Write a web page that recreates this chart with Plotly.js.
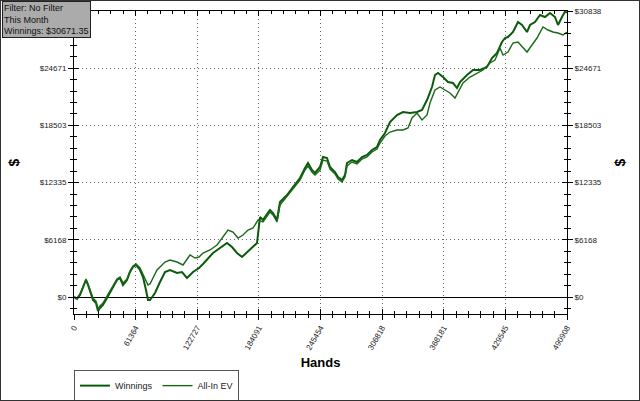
<!DOCTYPE html>
<html>
<head>
<meta charset="utf-8">
<script src="https://cdn.plot.ly/plotly-3.0.1.min.js"></script>
<style>
html,body{margin:0;padding:0;background:#fff;}
#wrap{position:relative;width:640px;height:401px;}
#chart{width:640px;height:401px;}
#frame{position:absolute;left:0;top:0;width:638px;height:399px;border:1px solid #333;pointer-events:none;}
</style>
</head>
<body>
<div id="wrap"><div id="chart"></div><div id="frame"></div></div>
<script>
// ---- data ----
const handsWin = [0,2987,5975,8962,11949,13941,16928,18919,21907,23898,25890,28877,32860,35847,38835,42818,45805,48792,52775,55763,58750,61737,65720,68707,71695,73686,75678,78665,80657,85635,90614,95593,102563,107542,112521,118495,124470,128453,132436,138411,145381,152351,157330,162309,167288,172266,177245,182224,185211,188199,192182,195169,198156,202139,205127,209110,212097,218071,222054,225042,230021,233008,236991,239978,244957,247944,251927,254915,259893,262881,266864,269851,271842,276821,281800,286779,291758,296736,301715,304703,309681,314660,321630,327605,334575,341546,346524,351503,356482,359469,362457,367435,372414,377393,381376,384363,391334,397308,404279,411249,416228,421206,426185,429173,432160,437139,442117,446100,451079,454067,459045,464024,469003,473982,478961,481948,485931,488918,490908];
const winnings = [0,-216,216,1078,1833,1294,216,-323,-647,-1509,-1186,-863,-108,431,1078,1833,2049,1294,1833,2696,3235,3450,2911,2156,755,-323,-323,108,431,1617,2696,2911,2588,2696,2049,2696,3127,3558,3989,4744,5283,5822,5391,4744,4313,4852,5283,5822,8626,8302,8949,9380,9057,8302,10243,10674,10998,11860,12399,12831,13909,14448,13693,13370,14017,15095,14987,14017,13478,12938,12615,13154,14448,14771,14556,15095,15310,15850,16173,16928,17682,18869,19623,19947,19839,19947,20162,21241,22642,23936,24152,23720,23181,23073,22534,23181,23936,24475,24475,24799,25769,26308,27494,27925,28033,28572,29651,29327,28572,29327,29651,30405,30190,30621,30190,29327,30190,30780,30671];
const handsEV = [0,2987,5975,8962,11949,13941,16928,18919,21907,23898,25890,28877,32860,35847,38835,42818,45805,48792,52775,55763,58750,61737,65720,68707,71695,73686,75678,78665,82648,85635,90614,95593,102563,108538,115508,120487,124470,128453,135423,142394,148368,153347,158326,163305,168283,173262,178241,183220,188199,192182,195169,198156,202139,205127,209110,212097,218071,222054,225042,230021,233008,236991,239978,244957,247944,251927,254915,259893,262881,266864,269851,271842,276821,281800,286779,291758,296736,301715,304703,309681,314660,321630,327605,332584,336567,341546,346524,351503,354491,359469,364448,369427,374406,379385,382372,387351,394321,401291,407266,414236,419215,424194,427181,432160,437139,442117,447096,451079,456058,461037,467011,471990,476969,481948,486927,490908];
const allInEV = [0,-108,323,1186,1941,1402,431,-108,-431,-1294,-970,-647,108,647,1294,1941,2156,1509,1941,2803,3342,3558,3127,2480,1725,1294,1402,2049,2911,3235,3774,3989,3774,3450,4528,4205,4313,4744,5068,5606,6469,7224,7008,6361,6685,7224,7440,8302,8087,8733,9165,8841,8087,9919,10459,10782,11645,12184,12615,13693,14124,13478,13154,13693,14771,14664,13801,13262,12723,12399,12938,14124,14556,14340,14879,15095,15634,15957,16604,17359,17790,18006,18006,18222,19300,19839,19084,19623,20917,22319,22642,22319,21995,21456,22103,23073,23720,24152,24475,25230,25553,26847,26092,26416,27386,27494,26847,26416,27171,27925,29111,28789,28572,28465,28250,28572];

const xTickVals = [0,61364,122727,184091,245454,306818,368181,429545,490908];
const xTickText = ['0','61364','122727','184091','245454','306818','368181','429545','490908'];
const yTickVals = [0,6168,12335,18503,24671,30838];
const yTickText = ['$0','$6168','$12335','$18503','$24671','$30838'];
const seriesNames = ['Winnings','All-In EV'];
const infoLines = ['Filter: No Filter','This Month','Winnings: $30671.35'];

// ---- chart ----
const FONT = 'Liberation Sans, Arial, sans-serif';
const xMax = xTickVals[xTickVals.length-1];
const yMax = yTickVals[yTickVals.length-1];
const xRange = [0, xMax];
const yRange = [-1833, yMax];
const xMinor = xMax/40, yMinor = yMax/25;
const GRIDDASH = '1px,3px';

const traces = [
  {x: handsWin, y: winnings, name: seriesNames[0], type:'scatter', mode:'lines',
   line:{color:'#0b5a0b', width:2}},
  {x: handsEV, y: allInEV, name: seriesNames[1], type:'scatter', mode:'lines',
   line:{color:'#186818', width:1.4}},
  {x:[null], y:[null], xaxis:'x', yaxis:'y2', showlegend:false, hoverinfo:'skip', mode:'lines'},
  {x:[null], y:[null], xaxis:'x2', yaxis:'y3', showlegend:false, hoverinfo:'skip', mode:'lines'}
];

const tickFont = {family: FONT, size: 8, color:'#222'};
const layout = {
  width:640, height:401,
  margin:{l:74, r:73, t:11, b:87, pad:0, autoexpand:false},
  paper_bgcolor:'#fff', plot_bgcolor:'#fff',
  showlegend:true,
  xaxis:{range:xRange, tickmode:'array', tickvals:xTickVals, ticktext:xTickText,
    tickangle:-60, tickfont:tickFont, ticks:'outside', ticklen:5, tickcolor:'#000',
    showline:true, linecolor:'#000', linewidth:1, mirror:true,
    showgrid:true, gridcolor:'#666', griddash:GRIDDASH, gridwidth:1, zeroline:false,
    minor:{tickmode:'linear', tick0:0, dtick:xMinor, ticks:'outside', ticklen:3, tickcolor:'#000', showgrid:false},
    automargin:false,
    title:{text:'<b>Hands</b>', font:{family:FONT, size:13, color:'#000'}, standoff:12}},
  yaxis:{range:yRange, tickmode:'array', tickvals:yTickVals, ticktext:yTickText,
    tickfont:tickFont, ticks:'outside', ticklen:5, tickcolor:'#000',
    showline:true, linecolor:'#000', linewidth:1, mirror:true,
    showgrid:true, gridcolor:'#666', griddash:GRIDDASH, gridwidth:1,
    zeroline:true, zerolinecolor:'#000', zerolinewidth:1,
    minor:{tickmode:'linear', tick0:0, dtick:yMinor, ticks:'outside', ticklen:3, tickcolor:'#000', showgrid:false},
    automargin:false,
    title:{text:'<b>$</b>', font:{family:FONT, size:14, color:'#000'}, standoff:16}},
  yaxis2:{range:yRange, overlaying:'y', side:'right', anchor:'x', tickmode:'array', tickvals:yTickVals, ticktext:yTickText,
    tickfont:tickFont, ticks:'outside', ticklen:5, tickcolor:'#000',
    showline:false, showgrid:false, zeroline:false,
    minor:{tickmode:'linear', tick0:0, dtick:yMinor, ticks:'outside', ticklen:3, tickcolor:'#000', showgrid:false},
    automargin:false,
    title:{text:'<b>$</b>', font:{family:FONT, size:14, color:'#000'}, standoff:14}},
  xaxis2:{range:xRange, overlaying:'x', anchor:'y3', tickmode:'array', tickvals:xTickVals,
    showticklabels:false, ticks:'inside', ticklen:5, tickcolor:'#000', mirror:'ticks',
    showline:false, showgrid:false, zeroline:false,
    minor:{tickmode:'linear', tick0:0, dtick:xMinor, ticks:'inside', ticklen:3, tickcolor:'#000', showgrid:false}},
  yaxis3:{range:yRange, overlaying:'y', anchor:'x2', tickmode:'array', tickvals:yTickVals,
    showticklabels:false, ticks:'inside', ticklen:5, tickcolor:'#000', mirror:'ticks',
    showline:false, showgrid:false, zeroline:false,
    minor:{tickmode:'linear', tick0:0, dtick:yMinor, ticks:'inside', ticklen:3, tickcolor:'#000', showgrid:false}},
  legend:{orientation:'h', xref:'paper', x:0, xanchor:'left', yref:'container', y:0.077, yanchor:'top',
    bgcolor:'#fff', bordercolor:'#555', borderwidth:1,
    font:{family:FONT, size:9, color:'#222'}, itemwidth:30, tracegroupgap:0},
  annotations:[{xref:'paper', yref:'paper', x:-0.146, xanchor:'left', y:1.033, yanchor:'top',
    text: infoLines.join('<br>'), align:'left', showarrow:false,
    font:{family:FONT, size:9, color:'#111'}, bgcolor:'#ababab', bordercolor:'#222', borderwidth:1, borderpad:1}]
};

Plotly.newPlot('chart', traces, layout, {staticPlot:true, displayModeBar:false});
</script>
</body>
</html>
